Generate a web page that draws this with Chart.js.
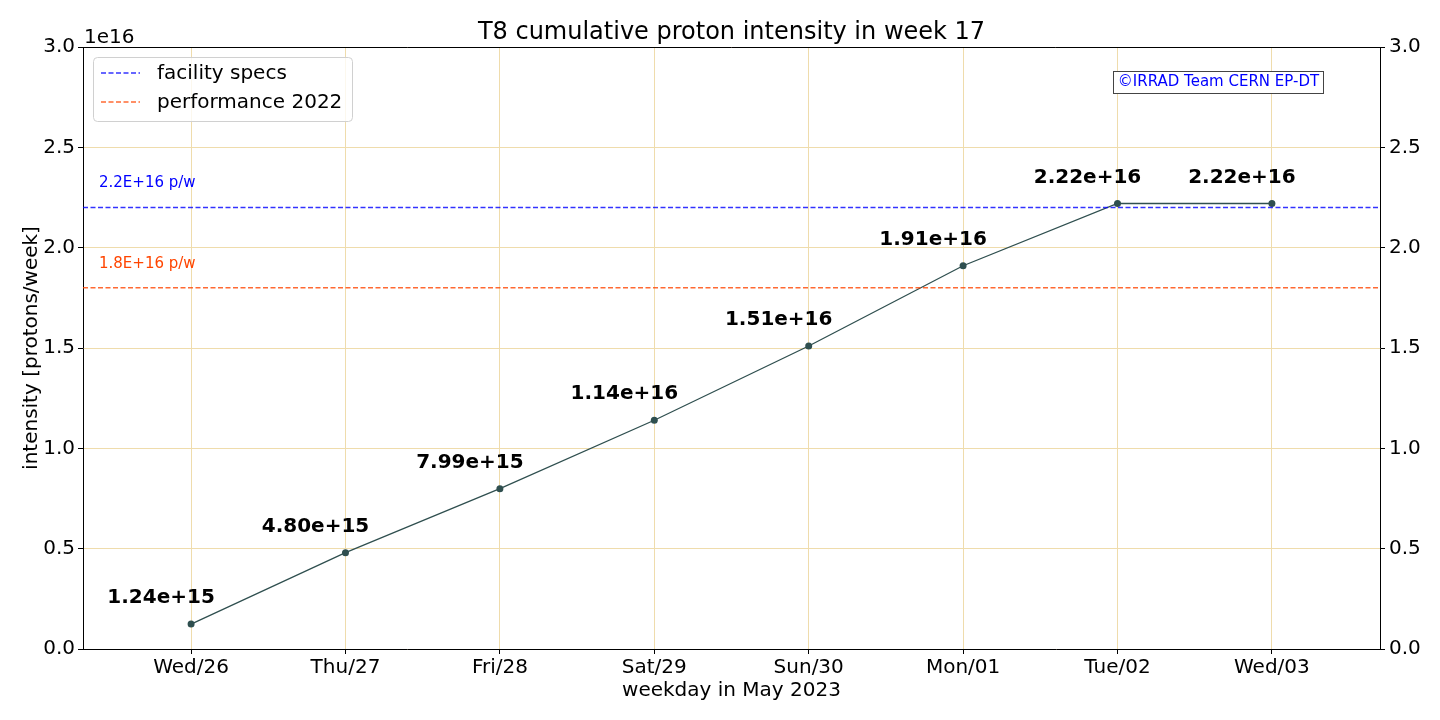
<!DOCTYPE html>
<html><head><meta charset="utf-8">
<script src="https://cdn.jsdelivr.net/npm/chart.js@4.4.0/dist/chart.umd.min.js"></script>
<style>html,body{margin:0;padding:0;background:#fff}#wrap{width:1440px;height:720px}</style>
</head><body><div id="wrap"><canvas id="c" width="1440" height="720"></canvas></div>
<script>
const categories = ["Wed/26","Thu/27","Fri/28","Sat/29","Sun/30","Mon/01","Tue/02","Wed/03"];
const intensity = [1.24e15, 4.80e15, 7.99e15, 1.14e16, 1.51e16, 1.91e16, 2.22e16, 2.22e16];
const valueLabels = ["1.24e+15","4.80e+15","7.99e+15","1.14e+16","1.51e+16","1.91e+16","2.22e+16","2.22e+16"];
const facilitySpec = 2.2e16;
const performance2022 = 1.8e16;
const yTicks = [0, 0.5e16, 1.0e16, 1.5e16, 2.0e16, 2.5e16, 3.0e16];

const FONT = "'DejaVu Sans', sans-serif";
const BLUE = 'rgba(0,0,255,0.8)';
const ORANGE = 'rgba(255,69,0,0.8)';

const overlay = {
  id: 'overlay',
  afterDatasetsDraw(chart) {
    const ctx = chart.ctx, a = chart.chartArea, xs = chart.scales.x, ys = chart.scales.y;
    ctx.save();
    ctx.strokeStyle = '#000'; ctx.lineWidth = 1;
    ctx.beginPath(); ctx.moveTo(a.left, a.top + 0.5); ctx.lineTo(a.right, a.top + 0.5); ctx.stroke();
    // value labels
    ctx.fillStyle = '#000'; ctx.font = 'bold 20px ' + FONT;
    ctx.textAlign = 'center'; ctx.textBaseline = 'middle';
    intensity.forEach((v, i) => {
      ctx.fillText(valueLabels[i], xs.getPixelForValue(i) - 30, ys.getPixelForValue(v) - 26);
    });
    // hline labels
    ctx.font = '15px ' + FONT; ctx.textAlign = 'left';
    ctx.fillStyle = '#0000ff';
    ctx.fillText('2.2E+16 p/w', 99, ys.getPixelForValue(facilitySpec) - 24);
    ctx.fillStyle = '#ff4500';
    ctx.fillText('1.8E+16 p/w', 99, ys.getPixelForValue(performance2022) - 24);
    // title
    ctx.fillStyle = '#000'; ctx.font = '24px ' + FONT; ctx.textAlign = 'center';
    ctx.fillText('T8 cumulative proton intensity in week 17', (a.left + a.right) / 2, 33);
    // offset text
    ctx.font = '20px ' + FONT; ctx.textAlign = 'left';
    ctx.fillText('1e16', a.left + 1, 38);
    // legend
    const lx = 93, ly = 57, lw = 259, lh = 64, r = 4;
    ctx.fillStyle = 'rgba(255,255,255,0.8)'; ctx.strokeStyle = '#d0d0d0'; ctx.lineWidth = 1;
    ctx.beginPath();
    ctx.roundRect(lx + 0.5, ly + 0.5, lw, lh, r);
    ctx.fill(); ctx.stroke();
    ctx.setLineDash([5, 2.5]); ctx.lineWidth = 1.5;
    ctx.strokeStyle = BLUE;
    ctx.beginPath(); ctx.moveTo(101, 73); ctx.lineTo(140, 73); ctx.stroke();
    ctx.strokeStyle = ORANGE;
    ctx.beginPath(); ctx.moveTo(101, 102); ctx.lineTo(140, 102); ctx.stroke();
    ctx.setLineDash([]);
    ctx.fillStyle = '#000'; ctx.font = '20px ' + FONT; ctx.textAlign = 'left';
    ctx.fillText('facility specs', 157, 74);
    ctx.fillText('performance 2022', 157, 103);
    // copyright box
    ctx.fillStyle = '#fff'; ctx.strokeStyle = '#444'; ctx.lineWidth = 1;
    ctx.fillRect(1113.5, 71.5, 210, 22); ctx.strokeRect(1113.5, 71.5, 210, 22);
    ctx.fillStyle = '#0000ff'; ctx.font = '15px ' + FONT; ctx.textAlign = 'center';
    ctx.fillText('©IRRAD Team CERN EP-DT', 1218.5, 82.5);
    ctx.restore();
  }
};

const gridCol = '#efdcac';
new Chart(document.getElementById('c'), {
  type: 'line',
  data: {
    datasets: [
      { label: 'facility specs', data: [{x:-0.7,y:facilitySpec},{x:7.7,y:facilitySpec}],
        borderColor: BLUE, borderWidth: 1.5, borderDash: [5, 2.5], pointRadius: 0, yAxisID: 'y' },
      { label: 'performance 2022', data: [{x:-0.7,y:performance2022},{x:7.7,y:performance2022}],
        borderColor: ORANGE, borderWidth: 1.5, borderDash: [5, 2.5], pointRadius: 0, yAxisID: 'y' },
      { label: 'intensity', data: intensity.map((v, i) => ({x: i, y: v})),
        borderColor: '#2f4f4f', backgroundColor: '#2f4f4f', borderWidth: 1.3,
        pointRadius: 3.5, pointBorderWidth: 0, yAxisID: 'y' }
    ]
  },
  options: {
    responsive: false, animation: false, devicePixelRatio: 1,
    layout: { padding: { top: 47, left: 20, right: 0, bottom: 17 } },
    plugins: { legend: { display: false }, tooltip: { enabled: false }, title: { display: false } },
    scales: {
      x: {
        type: 'linear', min: -0.7, max: 7.7,
        afterBuildTicks(s) { s.ticks = categories.map((c, i) => ({ value: i })); },
        afterFit(s) { s.height = 54; },
        ticks: { callback: (v) => categories[v] ?? '', color: '#000', font: { family: FONT, size: 20 }, padding: 2, maxRotation: 0, autoSkip: false },
        grid: { color: gridCol, lineWidth: 1, tickColor: '#000', tickLength: 5, drawTicks: true },
        border: { color: '#000', width: 1 },
        title: { display: true, text: 'weekday in May 2023', color: '#000', font: { family: FONT, size: 20 }, padding: { top: 0, bottom: 0 } }
      },
      y: {
        position: 'left', min: 0, max: 3e16,
        afterBuildTicks(s) { s.ticks = yTicks.map(v => ({ value: v })); },
        afterFit(s) { s.width = 63; },
        ticks: { callback: (v) => (v / 1e16).toFixed(1), color: '#000', font: { family: FONT, size: 20 }, padding: 3 },
        grid: { color: gridCol, lineWidth: 1, tickColor: '#000', tickLength: 5 },
        border: { color: '#000', width: 1 },
        title: { display: true, text: 'intensity [protons/week]', color: '#000', font: { family: FONT, size: 20 }, padding: { top: 0, bottom: 0 } }
      },
      y2: {
        position: 'right', min: 0, max: 3e16,
        afterBuildTicks(s) { s.ticks = yTicks.map(v => ({ value: v })); },
        afterFit(s) { s.width = 60; },
        ticks: { callback: (v) => (v / 1e16).toFixed(1), color: '#000', font: { family: FONT, size: 20 }, padding: 4 },
        grid: { drawOnChartArea: false, tickColor: '#000', tickLength: 5 },
        border: { color: '#000', width: 1 }
      }
    }
  },
  plugins: [overlay]
});
</script>
</body></html>
